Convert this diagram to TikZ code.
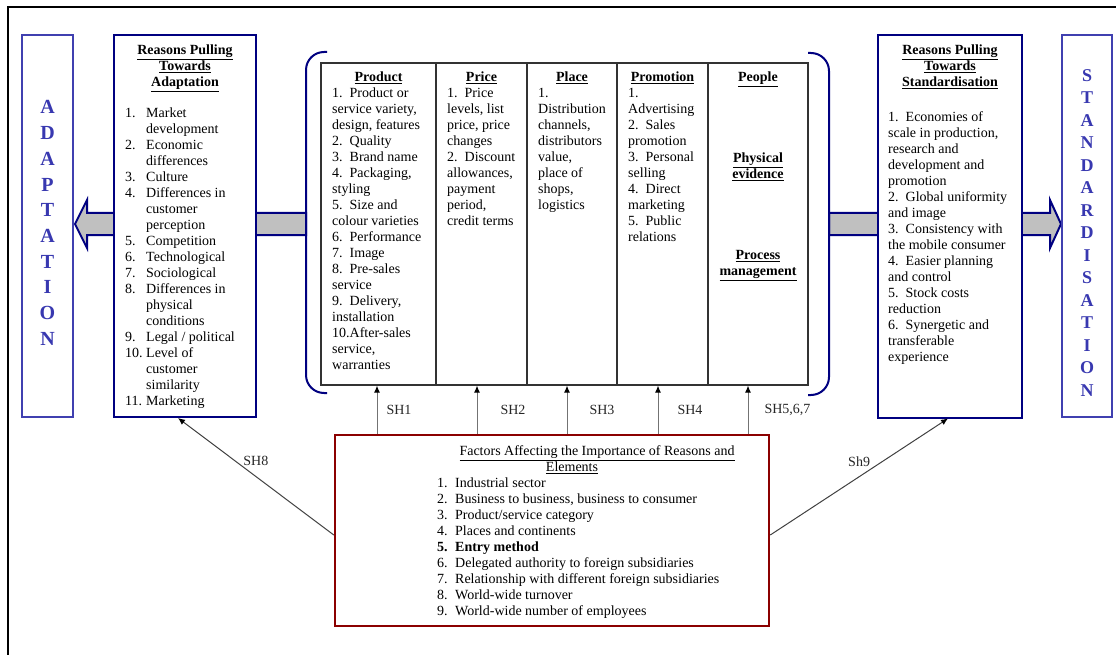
\documentclass[tikz,border=0pt]{standalone}
\usepackage{fontspec}
\setmainfont{Liberation Serif}
\usetikzlibrary{arrows.meta, positioning, calc}
\definecolor{navyline}{RGB}{0,0,128}
\definecolor{sideblue}{RGB}{64,64,176}
\definecolor{letterblue}{RGB}{56,56,176}
\definecolor{factorred}{RGB}{139,0,0}
\definecolor{shaftgray}{RGB}{192,192,192}
\tikzstyle{sidebox} = [rectangle, draw=sideblue, line width=2pt, fill=white, minimum width=51pt, minimum height=382pt, inner sep=0pt]
\tikzstyle{reasonbox} = [rectangle, draw=navyline, line width=2pt, fill=white, minimum width=142pt, minimum height=382pt, inner sep=0pt]
\tikzstyle{mixcol} = [rectangle, draw=black!80, line width=1.2pt, fill=white, minimum height=322pt, inner sep=0pt]
\tikzstyle{factorbox} = [rectangle, draw=factorred, line width=2.5pt, fill=white, minimum width=434pt, minimum height=191pt, inner sep=0pt]
\tikzstyle{txt} = [inner sep=0pt, anchor=base west]
\tikzstyle{ctxt} = [inner sep=0pt, anchor=base]
\tikzstyle{shaft} = [draw=navyline, line width=2pt, fill=shaftgray, line join=miter]
\tikzstyle{bracket} = [draw=navyline, line width=2pt, rounded corners=18pt]
\tikzstyle{sharrow} = [-{Latex[length=7pt,width=6pt,color=black]}, line width=1pt, black!55]
\tikzstyle{diagarrow} = [-{Latex[length=7pt,width=6pt,color=black]}, line width=1pt, black!75]
\tikzstyle{shlabel} = [inner sep=0pt, text=black!85]
\newcommand{\mixhead}[1]{\underline{\textbf{#1}}}
\newcommand{\leftrows}[1]{\begin{tabular}[t]{@{}l@{}}#1\end{tabular}}
\newcommand{\midrows}[1]{\begin{tabular}[t]{@{}c@{}}#1\end{tabular}}
\newcommand{\numrows}[2]{\begin{tabular}[t]{@{}p{#1}@{}l@{}}#2\end{tabular}}

\begin{document}
\begin{tikzpicture}[x=1pt, y=-1pt, font=\fontsize{14}{16}\selectfont]
\useasboundingbox (0,0) rectangle (1116,655);

% frame
\draw[line width=2.5pt] (8,655) -- (8,7) -- (1116,7);

% fat arrows (behind the boxes)
\draw[shaft] (306,213) -- (87,213) -- (87,200) -- (75,224) -- (87,248) -- (87,235) -- (306,235) -- cycle;
\draw[shaft] (829,213) -- (1050,213) -- (1050,200) -- (1061,224) -- (1050,248) -- (1050,235) -- (829,235) -- cycle;

% Nodes
\node (adaptbox) [sidebox] at (47.5,226) {};
\node (adaptword) [ctxt, font=\fontsize{20}{25.67}\selectfont\bfseries, text=letterblue] at (47.5,114)
  {\midrows{A\\D\\A\\P\\T\\A\\T\\I\\O\\N}};
\node (reasonsA) [reasonbox] at (185,226) {};
\node (titleA) [ctxt] at (185,54.5) {\midrows{\mixhead{Reasons Pulling}\\\mixhead{Towards}\\\mixhead{Adaptation}}};
\node (listA) [txt] at (125,117.5) {\numrows{21pt}{1. & Market\\ & development\\ 2. & Economic\\ & differences\\
  3. & Culture\\ 4. & Differences in\\ & customer\\ & perception\\ 5. & Competition\\ 6. & Technological\\
  7. & Sociological\\ 8. & Differences in\\ & physical\\ & conditions\\ 9. & Legal / political\\
  10. & Level of\\ & customer\\ & similarity\\ 11. & Marketing}};

\node (colProduct) [mixcol, minimum width=115pt] at (378.5,224) {};
\node (colPrice) [mixcol, minimum width=91pt] at (481.5,224) {};
\node (colPlace) [mixcol, minimum width=90pt] at (572,224) {};
\node (colPromotion) [mixcol, minimum width=91pt] at (662.5,224) {};
\node (colPeople) [mixcol, minimum width=100pt] at (758,224) {};

\node (ttlProduct) [ctxt] at (378.5,81.5) {\mixhead{Product}};
\node (ttlPrice) [ctxt] at (481.5,81.5) {\mixhead{Price}};
\node (ttlPlace) [ctxt] at (572,81.5) {\mixhead{Place}};
\node (ttlPromotion) [ctxt] at (662.5,81.5) {\mixhead{Promotion}};
\node (txtProduct) [txt] at (332,97.5) {\leftrows{1.\ \ Product or\\ service variety,\\ design, features\\ 2.\ \ Quality\\
  3.\ \ Brand name\\ 4.\ \ Packaging,\\ styling\\ 5.\ \ Size and\\ colour varieties\\ 6.\ \ Performance\\
  7.\ \ Image\\ 8.\ \ Pre-sales\\ service\\ 9.\ \ Delivery,\\ installation\\ 10.After-sales\\ service,\\ warranties}};
\node (txtPrice) [txt] at (447,97.5) {\leftrows{1.\ \ Price\\ levels, list\\ price, price\\ changes\\ 2.\ \ Discount\\
  allowances,\\ payment\\ period,\\ credit terms}};
\node (txtPlace) [txt] at (538,97.5) {\leftrows{1.\\ Distribution\\ channels,\\ distributors\\ value,\\ place of\\ shops,\\ logistics}};
\node (txtPromotion) [txt] at (628,97.5) {\leftrows{1.\\ Advertising\\ 2.\ \ Sales\\ promotion\\ 3.\ \ Personal\\ selling\\
  4.\ \ Direct\\ marketing\\ 5.\ \ Public\\ relations}};
\node (txtPeople) [ctxt] at (758,81.5) {\midrows{\mixhead{People}\\[65pt] \mixhead{Physical}\\ \mixhead{evidence}\\[65pt]
  \mixhead{Process}\\ \mixhead{management}}};

\node (reasonsS) [reasonbox, minimum width=144pt] at (950,226.5) {};
\node (titleS) [ctxt] at (950,54.5) {\midrows{\mixhead{Reasons Pulling}\\\mixhead{Towards}\\\mixhead{Standardisation}}};
\node (listS) [txt] at (888,121.5) {\leftrows{1.\ \ Economies of\\ scale in production,\\ research and\\ development and\\
  promotion\\ 2.\ \ Global uniformity\\ and image\\ 3.\ \ Consistency with\\ the mobile consumer\\ 4.\ \ Easier planning\\
  and control\\ 5.\ \ Stock costs\\ reduction\\ 6.\ \ Synergetic and\\ transferable\\ experience}};
\node (standbox) [sidebox, minimum width=50pt] at (1087,226) {};
\node (standword) [ctxt, font=\fontsize{18}{22.5}\selectfont\bfseries, text=letterblue] at (1087,81.5)
  {\midrows{S\\T\\A\\N\\D\\A\\R\\D\\I\\S\\A\\T\\I\\O\\N}};

\node (factors) [factorbox] at (552,530.5) {};
\node (titleF) [ctxt] at (597,455.5) {\midrows{\underline{Factors Affecting the Importance of Reasons and}\\
  \underline{Elements}\hspace*{50pt}}};
\node (listF) [txt] at (437,487.5) {\numrows{18pt}{1. & Industrial sector\\ 2. & Business to business, business to consumer\\
  3. & Product/service category\\ 4. & Places and continents\\ \textbf{5.} & \textbf{Entry method}\\
  6. & Delegated authority to foreign subsidiaries\\ 7. & Relationship with different foreign subsidiaries\\
  8. & World-wide turnover\\ 9. & World-wide number of employees}};

% Brackets
\draw[bracket] (327,52) -- (306,52) -- (306,393) -- (327,393);
\draw[bracket] (808,53) -- (829,53) -- (829,395) -- (808,395);

% Arrows
\draw[sharrow] ($(colProduct.south |- factors.north)+(-1.5,0)$) -- ($(colProduct.south)+(-1.5,0)$) node[shlabel, midway, right=9pt] {SH1};
\draw[sharrow] ($(colPrice.south |- factors.north)+(-4.5,0)$) -- ($(colPrice.south)+(-4.5,0)$) node[shlabel, midway, right=23pt] {SH2};
\draw[sharrow] ($(colPlace.south |- factors.north)+(-5,0)$) -- ($(colPlace.south)+(-5,0)$) node[shlabel, midway, right=22pt] {SH3};
\draw[sharrow] ($(colPromotion.south |- factors.north)+(-4.5,0)$) -- ($(colPromotion.south)+(-4.5,0)$) node[shlabel, midway, right=19pt] {SH4};
\draw[sharrow] ($(colPeople.south |- factors.north)+(-10,0)$) -- ($(colPeople.south)+(-10,0)$) node[shlabel, midway, right=16pt] {SH5,6,7};
\draw[diagarrow] ($(factors.west)+(0,4.5)$) -- ($(reasonsA.south)+(-7,0)$) node[shlabel, midway, above=10pt] {SH8};
\draw[diagarrow] ($(factors.east)+(0,4.5)$) -- ($(reasonsS.south)+(-2,0)$) node[shlabel, midway, above=10pt] {Sh9};

\end{tikzpicture}
\end{document}
